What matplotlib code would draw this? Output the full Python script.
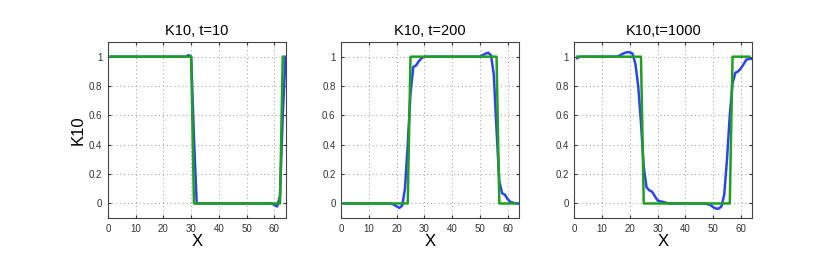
import numpy as np
import matplotlib
matplotlib.use('Agg')
import matplotlib.pyplot as plt

plt.rcParams['font.family'] = ['Liberation Sans', 'DejaVu Sans']

# grid positions
x = np.arange(1, 65)
x_exact = np.arange(1, 64)

# exact (green) profiles
exact1 = [1] * 30 + [0] * 32 + [1]
exact2 = [0] * 24 + [1] * 32 + [0] * 7
exact3 = [1] * 24 + [0] * 32 + [1] * 7

# computed (blue) profiles
blue1 = [1.0] * 28 + [1.01, 1.0, 0.45, 0.0] + [0.0] * 27 + [-0.01, -0.02, 0.05, 0.6, 1.0]
blue2 = ([0.0] * 17 + [-0.002, -0.008, -0.02, -0.03, -0.015, 0.1, 0.4, 0.75, 0.93, 0.94, 0.97, 0.99]
         + [1.0] * 21 + [1.01, 1.02, 1.027, 1.01, 0.88, 0.5, 0.15, 0.07, 0.06, 0.03, 0.01, 0.005, 0.0, 0.0])
blue3 = ([0.99] + [1.0] * 14 + [1.005, 1.015, 1.025, 1.03, 1.03, 1.02, 0.95, 0.8, 0.55, 0.25, 0.11,
         0.09, 0.08, 0.05, 0.02, 0.015, 0.01, 0.005] + [0.0] * 14
         + [-0.005, -0.01, -0.025, -0.035, -0.035, -0.02, 0.06, 0.3, 0.6, 0.82, 0.89, 0.9, 0.92,
            0.95, 0.98, 0.985, 0.985])

titles = ['K10, t=10', 'K10, t=200', 'K10,t=1000']
blues = [blue1, blue2, blue3]
exacts = [exact1, exact2, exact3]

fig = plt.figure(figsize=(8.3, 2.71), dpi=100)
lefts = [0.130, 0.411, 0.692]

for i in range(3):
    ax = fig.add_axes([lefts[i], 0.195, 0.214, 0.65])
    ax.plot(x, blues[i], color='#2a45f0', lw=1.8)
    ax.plot(x_exact, exacts[i], color='#1fa01f', lw=1.8)
    ax.set_xlim(0, 64)
    ax.set_ylim(-0.1, 1.1)
    ax.set_xticks([0, 10, 20, 30, 40, 50, 60])
    ax.set_yticks([0, 0.2, 0.4, 0.6, 0.8, 1])
    ax.set_yticklabels(['0', '0.2', '0.4', '0.6', '0.8', '1'])
    ax.tick_params(direction='in', length=2, labelsize=7, colors='#333333',
                   top=True, right=True, pad=4)
    ax.grid(True, linestyle=(0, (1, 3)), color='#999999', lw=0.7)
    for s in ax.spines.values():
        s.set_color('#444444')
        s.set_linewidth(0.8)
    ax.set_title(titles[i], fontsize=10.5, pad=5)
    ax.set_xlabel('X', fontsize=12, labelpad=0)
    if i == 0:
        ax.set_ylabel('K10', fontsize=12, labelpad=2)

plt.savefig('out.png', dpi=100)
